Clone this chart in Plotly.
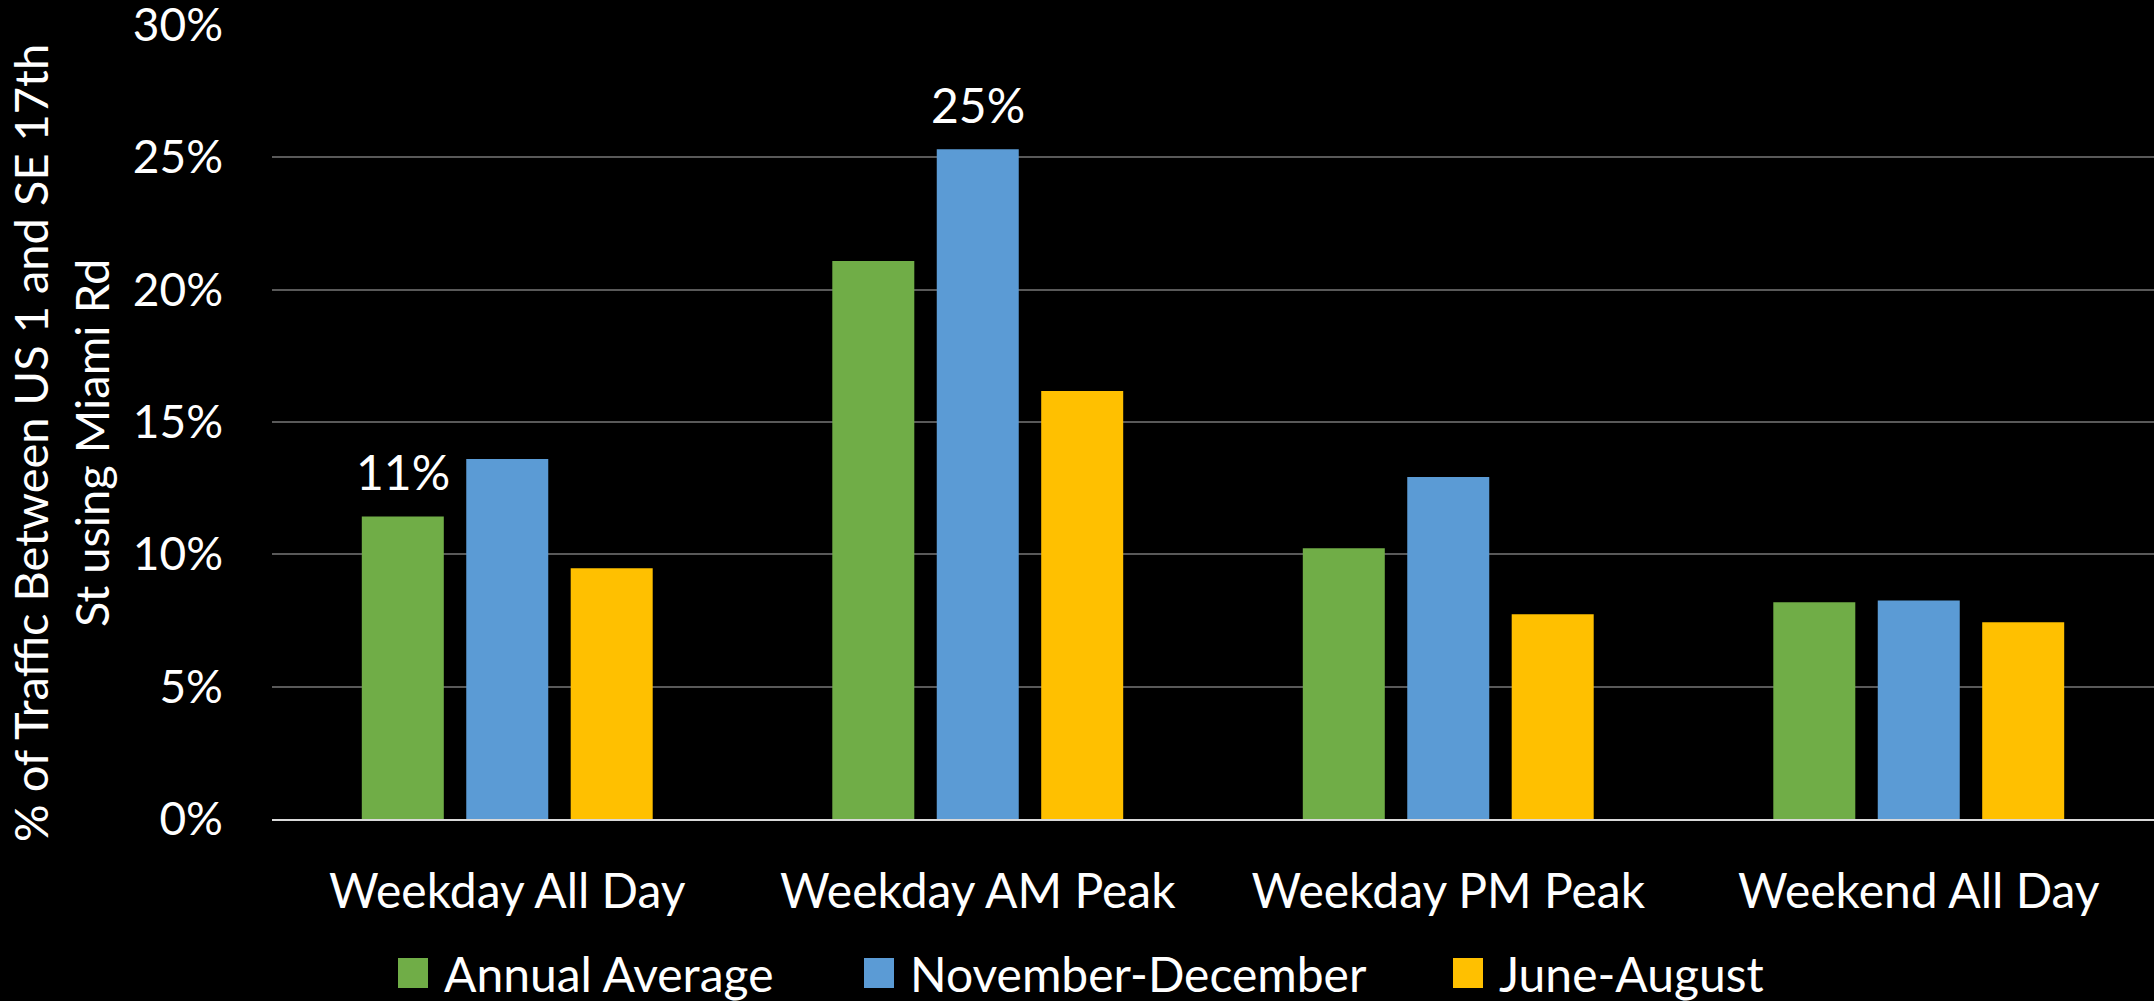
import plotly.graph_objects as go

# ---- data -------------------------------------------------------------
categories = ["Weekday All Day", "Weekday AM Peak", "Weekday PM Peak", "Weekend All Day"]
series_names = ["Annual Average", "November-December", "June-August"]
annual_average = [0.1143, 0.2108, 0.1023, 0.0819]
november_december = [0.1360, 0.2531, 0.1292, 0.0826]
june_august = [0.0947, 0.1617, 0.0774, 0.0743]
series_values = [annual_average, november_december, june_august]
# (series index, category index) pairs that carry a value label
labelled_points = [(0, 0), (1, 1)]
y_ticks = [0, 0.05, 0.10, 0.15, 0.20, 0.25, 0.30]
y_title = "% of Traffic Between US 1 and SE 17th<br>St using Miami Rd"

# ---- style ------------------------------------------------------------
colors = ["#70AD47", "#5B9BD5", "#FFC000"]
FONT = "Lato"
W, H = 2154, 1001
M_L, M_R, M_T, M_B = 272, 0, 25, 182
BARGAP, BARGROUPGAP = 0.334, 0.215
PLOT_W = W - M_L - M_R
PLOT_H = H - M_T - M_B

fig = go.Figure()
for name, vals, col in zip(series_names, series_values, colors):
    fig.add_trace(go.Bar(
        x=categories, y=vals, name=name,
        marker=dict(color=col, line=dict(width=0)),
        showlegend=False,
    ))

# value labels above selected bars, positioned over their bar within the group
n_series = len(series_names)
slot_px = PLOT_W / len(categories) * (1 - BARGAP) / n_series
annotations = []
for s_idx, c_idx in labelled_points:
    v = series_values[s_idx][c_idx]
    annotations.append(dict(
        x=categories[c_idx], y=v, xref="x", yref="y",
        text=f"{v:.0%}", showarrow=False,
        xanchor="center", yanchor="bottom",
        xshift=(s_idx - (n_series - 1) / 2) * slot_px, yshift=14,
        font=dict(family=FONT, size=48, color="white"),
    ))

# y-axis title (two lines, rotated)
annotations.append(dict(
    x=(60 - M_L) / PLOT_W, y=(H - M_B - 443) / PLOT_H, xref="paper", yref="paper",
    text=y_title, showarrow=False, textangle=-90,
    xanchor="center", yanchor="middle",
    font=dict(family=FONT, size=47, color="white"),
))

# legend: coloured squares followed by series names
legend_left_px = [398, 864, 1453]
legend_mid_px = 973
sq = 30
shapes = []
for name, col, lx in zip(series_names, colors, legend_left_px):
    x0 = (lx - M_L) / PLOT_W
    x1 = (lx + sq - M_L) / PLOT_W
    y0 = (H - M_B - (legend_mid_px + sq / 2)) / PLOT_H
    y1 = (H - M_B - (legend_mid_px - sq / 2)) / PLOT_H
    shapes.append(dict(type="rect", xref="paper", yref="paper",
                       x0=x0, x1=x1, y0=y0, y1=y1,
                       fillcolor=col, line=dict(width=0)))
    annotations.append(dict(
        x=(lx + sq + 14 - M_L) / PLOT_W, y=(H - M_B - legend_mid_px) / PLOT_H,
        xref="paper", yref="paper", text=name, showarrow=False,
        xanchor="left", yanchor="middle",
        font=dict(family=FONT, size=48, color="white"),
    ))

fig.update_layout(
    width=W, height=H,
    margin=dict(l=M_L, r=M_R, t=M_T, b=M_B, pad=0, autoexpand=False),
    paper_bgcolor="black", plot_bgcolor="black",
    barmode="group", bargap=BARGAP, bargroupgap=BARGROUPGAP,
    font=dict(family=FONT, color="white", size=47),
    annotations=annotations, shapes=shapes,
    showlegend=False,
)
fig.update_yaxes(
    range=[0, 0.30], tickvals=y_ticks, tickformat=".0%",
    showgrid=True, gridcolor="#595959", gridwidth=1.5,
    zeroline=False, showline=False, ticks="",
    tickfont=dict(family=FONT, size=46, color="white"),
    ticklabelstandoff=48, ticklabeloverflow="allow", automargin=False,
)
fig.update_xaxes(
    showline=True, linecolor="#D9D9D9", linewidth=2,
    ticks="", showgrid=False,
    tickfont=dict(family=FONT, size=48, color="white"),
    ticklabelstandoff=29, automargin=False,
)

fig.write_html("out.html")
